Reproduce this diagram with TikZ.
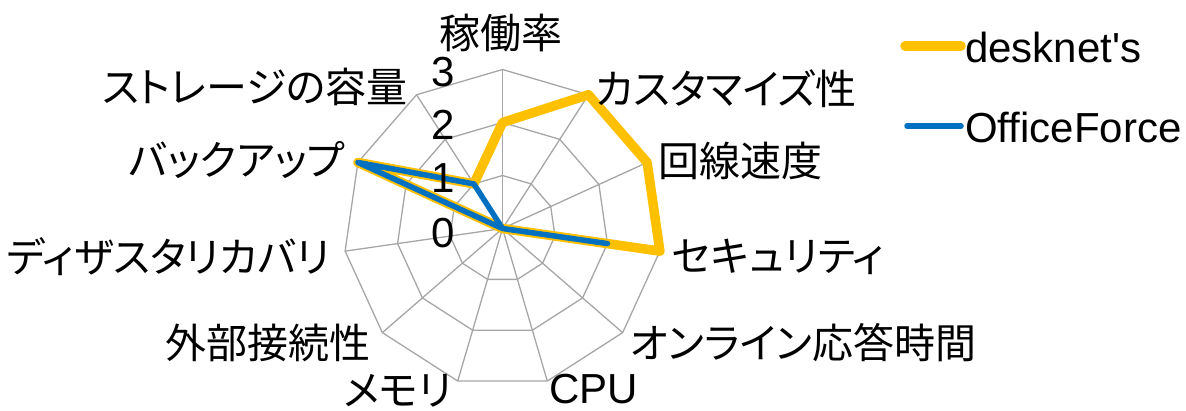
\documentclass[tikz,border=0pt]{standalone}
\usepackage{fontspec}
\setmainfont{Liberation Sans}[Ligatures=TeXOff]
\newfontfamily\jp[RawFeature=+palt]{Noto Sans CJK JP}
\definecolor{gridgray}{HTML}{A6A6A6}
\definecolor{deskc}{HTML}{FFC000}
\definecolor{offc}{HTML}{0070C0}
\begin{document}
\begin{tikzpicture}[x=1pt,y=-1pt,
  gridline/.style={draw=gridgray,line width=1.3pt},
  lbl/.style={inner sep=0pt,font=\fontsize{41}{48}\selectfont\jp},
  tick/.style={inner sep=0pt,anchor=east,font=\fontsize{42}{48}\selectfont},
  deskline/.style={draw=deskc,line width=9.5pt,line join=round,line cap=round},
  offline/.style={draw=offc,line width=5.5pt,line join=round,line cap=round}]
\useasboundingbox (0,0) rectangle (1186,410);
\begin{scope}[shift={(502.5,228.5)}]
  \coordinate (C) at (0,0);
  \foreach \k in {0,...,10}{
    \pgfmathsetmacro\a{-90+\k*360/11}
    \coordinate (s\k) at (\a:159);
    \coordinate (a\k) at (\a:53);
    \coordinate (b\k) at (\a:106);
    \draw[gridline] (C) -- (s\k);
  }
  \draw[gridline] (a0) -- (a1) -- (a2) -- (a3) -- (a4) -- (a5) -- (a6) -- (a7) -- (a8) -- (a9) -- (a10) -- cycle;
  \draw[gridline] (b0) -- (b1) -- (b2) -- (b3) -- (b4) -- (b5) -- (b6) -- (b7) -- (b8) -- (b9) -- (b10) -- cycle;
  \draw[gridline] (s0) -- (s1) -- (s2) -- (s3) -- (s4) -- (s5) -- (s6) -- (s7) -- (s8) -- (s9) -- (s10) -- cycle;
  \foreach \v [count=\k from 0] in {2,3,3,3,0,0,0,0,0,3,1}{
    \pgfmathsetmacro\a{-90+\k*360/11}
    \pgfmathsetmacro\r{\v*53}
    \coordinate (d\k) at (\a:\r);
  }
  \foreach \v [count=\k from 0] in {0,0,0,2,0,0,0,0,0,3,1}{
    \pgfmathsetmacro\a{-90+\k*360/11}
    \pgfmathsetmacro\r{\v*53}
    \coordinate (o\k) at (\a:\r);
  }
  \draw[deskline] (d0) -- (d1) -- (d2) -- (d3) -- (d4) -- (d5) -- (d6) -- (d7) -- (d8) -- (d9) -- (d10) -- cycle;
  \draw[offline] (o0) -- (o1) -- (o2) -- (o3) -- (o4) -- (o5) -- (o6) -- (o7) -- (o8) -- (o9) -- (o10) -- cycle;
\end{scope}
% tick labels
\node[tick] (t3) at (455,72) {3};
\node[tick] (t2) at (455,125) {2};
\node[tick] (t1) at (455,178) {1};
\node[tick] (t0) at (455,233) {0};
% axis labels
\node[lbl] (l0) at (501,33) {稼働率};
\node[lbl,anchor=west] (l1) at (595,89) {カスタマイズ性};
\node[lbl,anchor=west] (l2) at (658,161) {回線速度};
\node[lbl,anchor=west] (l3) at (672,257) {セキュリティ};
\node[lbl,anchor=west] (l4) at (630,343) {オンライン応答時間};
\node[tick,anchor=west] (l5) at (549,389) {CPU};
\node[lbl,anchor=east] (l6) at (452,391) {メモリ};
\node[lbl,anchor=east] (l7) at (371,343) {外部接続性};
\node[lbl,anchor=east] (l8) at (330,257) {ディザスタリカバリ};
\node[lbl,anchor=east] (l9) at (345,160) {バックアップ};
\node[lbl,anchor=east] (l10) at (408,87) {ストレージの容量};
% legend
\coordinate (k1a) at (905,46);
\coordinate (k1b) at (961,46);
\coordinate (k2a) at (907,126);
\coordinate (k2b) at (961,126);
\draw[deskline] (k1a) -- (k1b);
\draw[offline] (k2a) -- (k2b);
\node[tick,anchor=west] (n1) at (965,47) {desknet's};
\node[tick,anchor=west] (n2) at (965,127) {OfficeForce};
\end{tikzpicture}
\end{document}
